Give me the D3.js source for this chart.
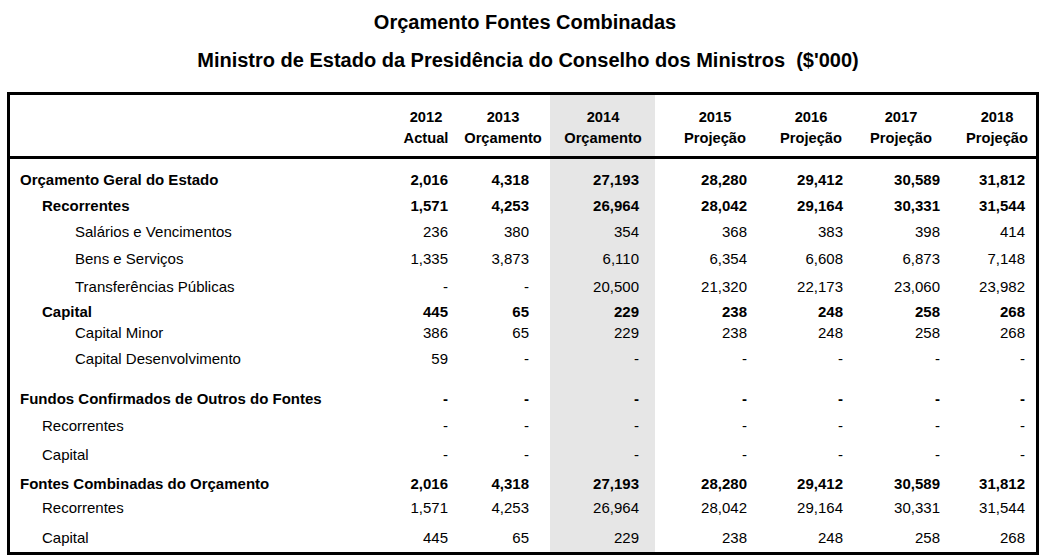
<!DOCTYPE html>
<html><head><meta charset="utf-8">
<script src="https://cdn.jsdelivr.net/npm/d3@7"></script>
<style>body{margin:0;background:#fff}</style>
</head><body>
<script>
const title1 = "Orçamento Fontes Combinadas";
const title2 = "Ministro de Estado da Presidência do Conselho dos Ministros  ($'000)";
const years = ["2012","2013","2014","2015","2016","2017","2018"];
const yearTypes = ["Actual","Orçamento","Orçamento","Projeção","Projeção","Projeção","Projeção"];
const rowLabels = ["Orçamento Geral do Estado","Recorrentes","Salários e Vencimentos","Bens e Serviços","Transferências Públicas","Capital","Capital Minor","Capital Desenvolvimento","","Fundos Confirmados de Outros do Fontes","Recorrentes","Capital","Fontes Combinadas do Orçamento","Recorrentes","Capital"];
const rowLevels = [0,1,2,2,2,1,2,2,0,0,1,1,0,1,1];
const rowBold = [true,true,false,false,false,true,false,false,false,true,false,false,true,false,false];
const v2012 = [2016,1571,236,1335,null,445,386,59,"",null,null,null,2016,1571,445];
const v2013 = [4318,4253,380,3873,null,65,65,null,"",null,null,null,4318,4253,65];
const v2014 = [27193,26964,354,6110,20500,229,229,null,"",null,null,null,27193,26964,229];
const v2015 = [28280,28042,368,6354,21320,238,238,null,"",null,null,null,28280,28042,238];
const v2016 = [29412,29164,383,6608,22173,248,248,null,"",null,null,null,29412,29164,248];
const v2017 = [30589,30331,398,6873,23060,258,258,null,"",null,null,null,30589,30331,258];
const v2018 = [31812,31544,414,7148,23982,268,268,null,"",null,null,null,31812,31544,268];
const seriesValues = [v2012,v2013,v2014,v2015,v2016,v2017,v2018];

// layout (not data)
const W = 1043, H = 560;
const rowHeights = [26,26,27,28,25,21,26,20,20,27,29,29,24,30];
const colRight = [448,529,639,747,843,940,1025];
const colCenter = [426,503,603,715,811,901,997];
const indent = [20,42,75];
const font = "'Liberation Sans', Arial, sans-serif";

const svg = d3.select("body").append("svg").attr("width",W).attr("height",H);

svg.append("text").attr("x",525).attr("y",29).attr("text-anchor","middle")
  .attr("font-family",font).attr("font-weight","bold").attr("font-size",20).text(title1);
svg.append("text").attr("x",528).attr("y",67).attr("text-anchor","middle")
  .style("white-space","pre")
  .attr("font-family",font).attr("font-weight","bold").attr("font-size",20).text(title2);

const ys = [180];
rowHeights.forEach((h,i)=>ys.push(ys[i]+h));
const y = d3.scaleOrdinal().domain(d3.range(rowLabels.length)).range(ys);
const xR = d3.scaleOrdinal().domain(years).range(colRight);
const xC = d3.scaleOrdinal().domain(years).range(colCenter);

// highlight column 2014
svg.append("rect").attr("x",550).attr("y",95).attr("width",105).attr("height",457).attr("fill","#e6e6e6");

// header
const hdr = svg.append("g").attr("font-family",font).attr("font-weight","bold").attr("font-size",14.7).attr("text-anchor","middle");
years.forEach((yr,i)=>{
  hdr.append("text").attr("x",xC(yr)).attr("y",122).text(yr);
  hdr.append("text").attr("x",xC(yr)).attr("y",143).text(yearTypes[i]);
});

// borders
svg.append("rect").attr("x",8.5).attr("y",93.5).attr("width",1029).attr("height",460)
  .attr("fill","none").attr("stroke","#000").attr("stroke-width",3);
svg.append("line").attr("x1",8).attr("x2",1038).attr("y1",157.5).attr("y2",157.5)
  .attr("stroke","#000").attr("stroke-width",3);

const fmt = d3.format(",");
const body = svg.append("g").attr("font-family",font).attr("font-size",15).attr("fill","#000");
rowLabels.forEach((lab,r)=>{
  if(lab==="") return;
  const yy = y(r)+5;
  body.append("text").attr("x",indent[rowLevels[r]]).attr("y",yy)
    .attr("font-weight",rowBold[r]?"bold":"normal").text(lab);
  years.forEach((yr,c)=>{
    const v = seriesValues[c][r];
    body.append("text").attr("x",xR(yr)).attr("y",yy).attr("text-anchor","end")
      .attr("font-weight",rowBold[r]?"bold":"normal")
      .text(v===null?"-":fmt(v));
  });
});
</script>
</body></html>
